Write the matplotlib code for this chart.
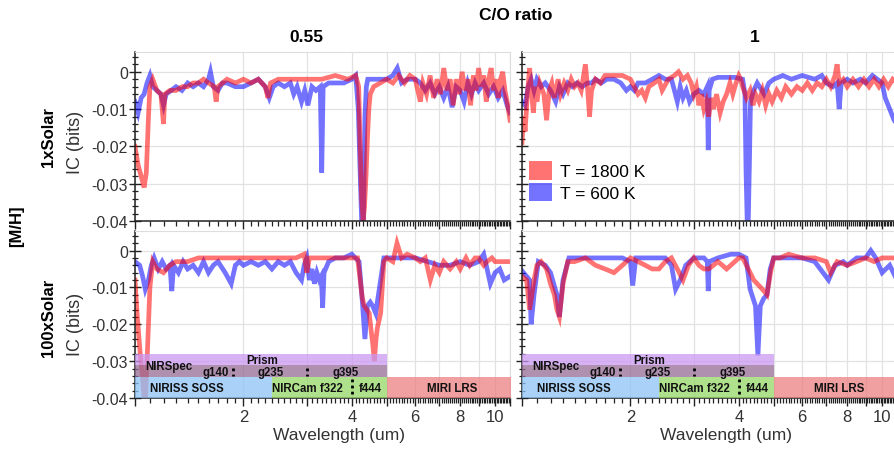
import numpy as np
import matplotlib.pyplot as plt
from matplotlib.patches import Patch
from matplotlib.ticker import FixedLocator, MultipleLocator, FuncFormatter, NullFormatter

plt.rcParams['font.family'] = ['Liberation Sans', 'DejaVu Sans']
plt.rcParams['axes.unicode_minus'] = False

# ---- data ----
# 1xSolar, C/O = 0.55
wl_tl_hot = [1.00, 1.02, 1.04, 1.06, 1.075, 1.09, 1.10, 1.12, 1.15, 1.18, 1.20, 1.21, 1.25, 1.30, 1.35,
             1.40, 1.45, 1.50, 1.55, 1.60, 1.66, 1.68, 1.70, 1.75, 1.80, 1.90, 2.00, 2.10, 2.20, 2.30,
             2.34, 2.38, 2.50, 2.70, 3.00, 3.30, 3.60, 3.90, 4.10, 4.18, 4.22, 4.26, 4.30, 4.34, 4.38,
             4.42, 4.46, 4.50, 4.60, 4.80, 5.00, 5.20, 5.40, 5.60, 5.80, 6.00, 6.10, 6.20, 6.30, 6.45,
             6.60, 6.75, 6.90, 7.05, 7.20, 7.35, 7.50, 7.65, 7.80, 7.95, 8.10, 8.25, 8.40, 8.55, 8.70,
             8.85, 9.00, 9.15, 9.30, 9.45, 9.60, 9.75, 9.90, 10.05, 10.2, 10.35, 10.5, 10.65, 10.8, 11.0]
ic_tl_hot = [-0.020, -0.025, -0.028, -0.031, -0.027, -0.012, -0.004, -0.002, -0.005, -0.006, -0.014, -0.006,
             -0.005, -0.005, -0.004, -0.004, -0.003, -0.003, -0.002, -0.003, -0.004, -0.008, -0.004, -0.003,
             -0.002, -0.003, -0.002, -0.003, -0.002, -0.004, -0.007, -0.003, -0.002, -0.002, -0.002, -0.002,
             -0.001, -0.002, -0.001, -0.004, -0.020, -0.034, -0.040, -0.036, -0.028, -0.018, -0.010, -0.006,
             -0.004, -0.003, -0.002, -0.003, -0.001, -0.003, -0.001, -0.002, -0.005, -0.008, -0.003, -0.006,
             -0.001, -0.007, -0.002, -0.006, 0.001, -0.005, -0.002, -0.009, -0.002, -0.006, 0.000, -0.005,
             -0.002, -0.009, -0.001, -0.005, 0.001, -0.004, -0.001, -0.008, -0.002, 0.001, -0.005, -0.002,
             -0.007, -0.002, 0.000, -0.005, -0.008, -0.013]
wl_tl_cool = [1.00, 1.02, 1.04, 1.06, 1.08, 1.10, 1.12, 1.15, 1.18, 1.20, 1.22, 1.26, 1.30, 1.35, 1.40,
              1.45, 1.50, 1.55, 1.60, 1.62, 1.65, 1.70, 1.75, 1.80, 1.90, 2.00, 2.10, 2.20, 2.30, 2.36,
              2.42, 2.50, 2.60, 2.70, 2.76, 2.82, 2.90, 2.96, 3.02, 3.10, 3.18, 3.27, 3.30, 3.33, 3.45,
              3.60, 3.80, 4.00, 4.10, 4.17, 4.21, 4.26, 4.31, 4.35, 4.39, 4.43, 4.60, 5.00, 5.20, 5.35,
              5.50, 5.70, 6.00, 6.20, 6.40, 6.60, 6.80, 7.00, 7.20, 7.40, 7.60, 7.80, 8.00, 8.20, 8.40,
              8.60, 8.80, 9.00, 9.30, 9.60, 9.90, 10.2, 10.5, 10.8, 11.0]
ic_tl_cool = [-0.008, -0.011, -0.007, -0.006, -0.003, -0.001, -0.004, -0.005, -0.006, -0.009, -0.006,
              -0.005, -0.004, -0.005, -0.003, -0.004, -0.003, -0.004, -0.002, 0.000, -0.004, -0.005,
              -0.003, -0.003, -0.004, -0.004, -0.003, -0.002, -0.004, -0.007, -0.004, -0.003, -0.004,
              -0.003, -0.006, -0.004, -0.008, -0.005, -0.009, -0.004, -0.005, -0.004, -0.027, -0.004,
              -0.003, -0.003, -0.003, -0.002, -0.001, -0.010, -0.024, -0.040, -0.040, -0.012, -0.004,
              -0.002, -0.002, -0.002, -0.001, 0.001, -0.003, -0.002, -0.002, -0.003, -0.005, -0.003,
              -0.006, -0.004, -0.007, -0.004, -0.0095, -0.004, -0.005, -0.008, -0.003, -0.006, -0.003,
              -0.005, -0.003, -0.006, -0.004, -0.007, -0.005, -0.009, -0.011]

# 1xSolar, C/O = 1
wl_tr_hot = [1.00, 1.01, 1.02, 1.035, 1.05, 1.06, 1.075, 1.09, 1.10, 1.12, 1.15, 1.17, 1.19, 1.21, 1.23,
             1.26, 1.28, 1.31, 1.34, 1.37, 1.40, 1.43, 1.46, 1.50, 1.52, 1.54, 1.56, 1.60, 1.65, 1.70,
             1.80, 1.90, 2.00, 2.05, 2.10, 2.15, 2.20, 2.25, 2.33, 2.40, 2.45, 2.55, 2.65, 2.72, 2.80,
             2.88, 2.95, 3.00, 3.05, 3.10, 3.15, 3.20, 3.25, 3.30, 3.35, 3.40, 3.47, 3.55, 3.62, 3.70,
             3.78, 3.85, 3.93, 4.00, 4.05, 4.10, 4.20, 4.30, 4.38, 4.45, 4.55, 4.65, 4.75, 4.85, 4.95,
             5.10, 5.25, 5.40, 5.60, 5.80, 6.00, 6.20, 6.40, 6.60, 6.80, 7.00, 7.20, 7.40, 7.50, 7.60,
             7.80, 8.00, 8.30, 8.60, 8.90, 9.20, 9.50, 9.80, 10.1, 10.4, 10.7, 11.0]
ic_tr_hot = [-0.019, -0.012, -0.016, -0.006, 0.001, -0.004, -0.011, -0.004, -0.008, -0.003, -0.006,
             -0.013, -0.005, -0.003, -0.007, -0.002, -0.006, -0.003, -0.005, -0.002, -0.004, -0.003,
             -0.005, 0.002, -0.004, -0.012, -0.005, -0.002, -0.003, -0.001, -0.001, -0.001, -0.002,
             -0.004, -0.006, -0.005, -0.007, -0.004, -0.003, -0.002, -0.005, -0.002, -0.001, 0.000,
             -0.002, -0.001, -0.003, -0.006, -0.004, -0.009, -0.006, -0.010, -0.008, -0.012, -0.007,
             -0.010, -0.006, -0.011, -0.008, -0.006, -0.003, -0.006, -0.003, -0.001, -0.002, -0.004,
             -0.007, -0.005, -0.009, -0.006, -0.008, -0.005, -0.009, -0.006, -0.008, -0.005, -0.007,
             -0.004, -0.006, -0.004, -0.005, -0.003, -0.005, -0.003, -0.004, -0.002, -0.004, -0.001,
             0.002, -0.003, -0.002, -0.004, -0.002, -0.004, -0.002, -0.004, -0.002, -0.004, -0.002,
             -0.004, -0.002, -0.003]
wl_tr_cool = [1.00, 1.02, 1.04, 1.06, 1.08, 1.10, 1.13, 1.16, 1.20, 1.24, 1.27, 1.30, 1.34, 1.38, 1.42,
              1.47, 1.52, 1.56, 1.60, 1.66, 1.72, 1.80, 1.88, 1.95, 2.00, 2.05, 2.10, 2.20, 2.30, 2.40,
              2.50, 2.60, 2.65, 2.70, 2.75, 2.80, 2.86, 2.92, 3.00, 3.10, 3.20, 3.27, 3.29, 3.31, 3.38,
              3.50, 3.70, 3.90, 4.10, 4.16, 4.19, 4.22, 4.25, 4.28, 4.31, 4.40, 4.50, 4.70, 4.85, 5.00,
              5.30, 5.60, 6.00, 6.50, 6.80, 7.00, 7.30, 7.50, 7.60, 7.70, 8.00, 8.30, 8.70, 9.00, 9.40,
              9.70, 10.0, 10.2, 10.5, 10.8, 11.0]
ic_tr_cool = [-0.008, -0.009, -0.004, -0.002, -0.005, -0.002, -0.004, -0.003, -0.005, -0.008, -0.004,
              -0.006, -0.003, -0.004, -0.003, -0.004, -0.003, -0.003, -0.002, -0.003, -0.002, -0.002,
              -0.003, -0.005, -0.004, -0.005, -0.003, -0.003, -0.002, -0.001, -0.002, -0.002, -0.005,
              -0.008, -0.004, -0.007, -0.005, -0.008, -0.006, -0.005, -0.006, -0.004, -0.021, -0.005,
              -0.002, -0.0015, -0.0015, -0.0015, -0.002, -0.006, -0.027, -0.040, -0.040, -0.025, -0.008,
              -0.005, -0.003, -0.006, -0.003, -0.002, -0.001, -0.002, -0.001, -0.002, -0.001, -0.003,
              -0.004, -0.003, -0.010, -0.003, -0.002, -0.003, -0.002, -0.003, -0.001, -0.002, -0.003,
              -0.007, -0.010, -0.013, -0.014]

# 100xSolar, C/O = 0.55
wl_bl_hot = [1.00, 1.015, 1.03, 1.05, 1.06, 1.07, 1.08, 1.09, 1.10, 1.12, 1.15, 1.20, 1.25, 1.30, 1.40,
             1.50, 1.60, 1.70, 1.80, 2.00, 2.20, 2.50, 2.80, 2.95, 3.00, 3.05, 3.20, 3.50, 3.80, 4.00,
             4.15, 4.22, 4.28, 4.33, 4.40, 4.47, 4.53, 4.57, 4.62, 4.67, 4.71, 4.81, 4.91, 5.00, 5.20,
             5.34, 5.50, 5.70, 6.00, 6.20, 6.40, 6.61, 6.80, 7.00, 7.20, 7.50, 7.80, 8.00, 8.30, 8.50,
             8.80, 9.00, 9.30, 9.50, 9.80, 10.0, 10.5, 11.0]
ic_bl_hot = [-0.008, -0.018, -0.026, -0.035, -0.040, -0.040, -0.030, -0.020, -0.010, -0.003, -0.005,
             -0.006, -0.004, -0.003, -0.003, -0.002, -0.002, -0.002, -0.002, -0.002, -0.002, -0.002,
             -0.002, -0.001, -0.006, -0.002, -0.002, -0.002, -0.002, -0.002, -0.002, -0.008, -0.013,
             -0.015, -0.016, -0.017, -0.022, -0.025, -0.030, -0.024, -0.021, -0.017, -0.003, -0.002,
             -0.003, 0.002, -0.002, -0.001, -0.002, -0.003, -0.002, -0.008, -0.004, -0.006, -0.003,
             -0.005, -0.003, -0.005, -0.002, -0.004, -0.002, -0.002, -0.004, -0.003, -0.002, -0.003,
             -0.003, -0.003]
wl_bl_cool = [1.00, 1.03, 1.05, 1.068, 1.09, 1.11, 1.13, 1.16, 1.19, 1.22, 1.25, 1.265, 1.28, 1.32, 1.36,
              1.40, 1.45, 1.50, 1.55, 1.60, 1.65, 1.70, 1.78, 1.85, 1.90, 1.95, 2.00, 2.10, 2.20, 2.30,
              2.40, 2.50, 2.60, 2.70, 2.80, 2.90, 2.95, 3.00, 3.05, 3.10, 3.15, 3.20, 3.25, 3.29, 3.32,
              3.35, 3.45, 3.60, 3.80, 4.00, 4.19, 4.28, 4.35, 4.42, 4.50, 4.57, 4.66, 4.81, 4.91, 5.00,
              5.50, 6.00, 6.50, 7.00, 7.50, 8.00, 8.50, 9.00, 9.30, 9.50, 9.70, 10.0, 10.3, 10.6, 11.0]
ic_bl_cool = [-0.003, -0.004, -0.007, -0.0105, -0.008, -0.004, -0.002, -0.005, -0.003, -0.005, -0.004,
              -0.011, -0.004, -0.006, -0.003, -0.005, -0.004, -0.006, -0.003, -0.006, -0.004, -0.003,
              -0.006, -0.009, -0.004, -0.003, -0.004, -0.003, -0.004, -0.003, -0.005, -0.003, -0.004,
              -0.003, -0.006, -0.008, -0.004, -0.002, -0.008, -0.005, -0.009, -0.006, -0.008, -0.007,
              -0.0155, -0.006, -0.003, -0.002, -0.002, -0.001, -0.003, -0.014, -0.024, -0.015, -0.014,
              -0.015, -0.017, -0.008, -0.002, -0.002, -0.002, -0.002, -0.003, -0.004, -0.004, -0.003,
              -0.004, -0.003, -0.001, -0.005, -0.009, -0.006, -0.005, -0.008, -0.007]

# 100xSolar, C/O = 1
wl_br_hot = [1.00, 1.03, 1.05, 1.065, 1.08, 1.10, 1.13, 1.17, 1.20, 1.23, 1.25, 1.27, 1.30, 1.34, 1.40,
             1.50, 1.60, 1.70, 1.80, 1.90, 2.00, 2.10, 2.20, 2.30, 2.40, 2.50, 2.60, 2.70, 2.80, 2.90,
             3.00, 3.10, 3.20, 3.30, 3.40, 3.50, 3.60, 3.70, 3.80, 3.90, 4.00, 4.10, 4.20, 4.30, 4.40,
             4.50, 4.60, 4.70, 4.79, 4.90, 5.00, 5.20, 5.50, 6.00, 6.50, 7.00, 7.20, 7.50, 8.00, 8.50,
             9.00, 9.50, 10.0, 10.5, 11.0]
ic_br_hot = [-0.007, -0.008, -0.016, -0.012, -0.008, -0.004, -0.003, -0.005, -0.009, -0.012, -0.016,
             -0.018, -0.009, -0.003, -0.003, -0.002, -0.004, -0.005, -0.006, -0.004, -0.002, -0.003,
             -0.004, -0.005, -0.005, -0.003, -0.002, -0.005, -0.008, -0.004, -0.002, -0.004, -0.005,
             -0.005, -0.004, -0.003, -0.004, -0.005, -0.004, -0.003, -0.002, -0.002, -0.004, -0.006,
             -0.008, -0.009, -0.010, -0.011, -0.012, -0.006, -0.002, -0.002, -0.001, -0.002, -0.002,
             -0.003, -0.006, -0.003, -0.004, -0.003, -0.002, -0.003, -0.002, -0.002, -0.002]
wl_br_cool = [1.00, 1.03, 1.05, 1.06, 1.08, 1.11, 1.16, 1.20, 1.25, 1.27, 1.30, 1.35, 1.50, 1.70, 1.90,
              2.00, 2.03, 2.07, 2.30, 2.50, 2.60, 2.67, 2.75, 2.85, 3.00, 3.20, 3.27, 3.29, 3.31, 3.50,
              3.80, 4.00, 4.19, 4.30, 4.45, 4.52, 4.59, 4.69, 4.79, 4.89, 5.00, 5.50, 6.00, 6.50, 7.10,
              7.40, 7.80, 8.00, 8.50, 9.00, 9.30, 9.60, 10.0, 10.5, 11.0]
ic_br_cool = [-0.0055, -0.007, -0.008, -0.020, -0.012, -0.003, -0.004, -0.006, -0.012, -0.018, -0.008,
              -0.002, -0.002, -0.002, -0.002, -0.003, -0.0095, -0.002, -0.002, -0.002, -0.004, -0.0105,
              -0.008, -0.004, -0.002, -0.002, -0.003, -0.011, -0.003, -0.002, -0.001, -0.001, -0.002,
              -0.0105, -0.015, -0.0285, -0.015, -0.013, -0.012, -0.005, -0.002, -0.002, -0.002, -0.003,
              -0.008, -0.004, -0.003, -0.004, -0.002, -0.002, 0.000, -0.002, -0.006, -0.004, -0.008]

# instrument coverage (um)
nirspec_range = (0.6, 5.0)
grating_splits = [1.87, 3.0]
niriss_range = (0.6, 2.4)
nircam_range = (2.4, 5.0)
nircam_split = 4.0
miri_range = (5.0, 12.0)

# ---- figure ----
W, H = 894, 452
fig = plt.figure(figsize=(W / 100, H / 100), dpi=100)


def add_ax(x0, y0, x1, y1):
    return fig.add_axes([x0 / W, 1 - y1 / H, (x1 - x0) / W, (y1 - y0) / H])


ax_tl = add_ax(135, 53, 510, 222)
ax_tr = add_ax(522, 53, 897, 222)
ax_bl = add_ax(135, 232, 510, 399)
ax_br = add_ax(522, 232, 897, 399)

HOT = '#ff0000'
COOL = '#0000ff'
ALPHA = 0.55


def style(ax, ylabels, xlabels):
    ax.set_xscale('log')
    ax.set_xlim(1.0, 11.0)
    ax.set_ylim(-0.04, 0.0053)
    ax.xaxis.set_major_locator(FixedLocator(range(1, 12)))
    ax.xaxis.set_major_formatter(FuncFormatter(
        lambda v, p: f'{v:g}' if (xlabels and round(v) in (2, 4, 6, 8, 10)) else ''))
    ax.xaxis.set_minor_locator(FixedLocator(np.arange(1.1, 11.0, 0.1)))
    ax.xaxis.set_minor_formatter(NullFormatter())
    ax.yaxis.set_major_locator(MultipleLocator(0.01))
    ax.yaxis.set_minor_locator(MultipleLocator(0.002))
    ax.yaxis.set_major_formatter(FuncFormatter(
        lambda v, p: ('0' if abs(v) < 1e-9 else f'{v:.2f}') if ylabels else ''))
    ax.tick_params(axis='x', which='major', direction='out', length=6, width=1, labelsize=12,
                   colors='#222222', labelcolor='#333333', pad=2)
    ax.tick_params(axis='x', which='minor', direction='out', length=3.5, width=0.9, colors='#222222')
    ax.tick_params(axis='y', which='major', direction='inout', length=8, width=1, labelsize=11.5,
                   colors='#222222', labelcolor='#333333', pad=1)
    ax.tick_params(axis='y', which='minor', direction='inout', length=5, width=0.9, colors='#222222')
    ax.grid(True, which='major', color='#e2e2e2', lw=0.9)
    ax.set_axisbelow(True)
    for s in ('top', 'right'):
        ax.spines[s].set_color('#dddddd')
    for s in ('left', 'bottom'):
        ax.spines[s].set_color('#222222')
        ax.spines[s].set_linewidth(1.1)


panels = [
    (ax_tl, wl_tl_hot, ic_tl_hot, wl_tl_cool, ic_tl_cool, True, False),
    (ax_tr, wl_tr_hot, ic_tr_hot, wl_tr_cool, ic_tr_cool, False, False),
    (ax_bl, wl_bl_hot, ic_bl_hot, wl_bl_cool, ic_bl_cool, True, True),
    (ax_br, wl_br_hot, ic_br_hot, wl_br_cool, ic_br_cool, False, True),
]
for ax, wh, ih, wc, icc, yl, xl in panels:
    style(ax, yl, xl)
    ax.plot(wc, icc, color=COOL, alpha=ALPHA, lw=3.4, solid_joinstyle='miter')
    ax.plot(wh, ih, color=HOT, alpha=ALPHA, lw=3.4, solid_joinstyle='miter')

# instrument bands on the 100xSolar row
for ax in (ax_bl, ax_br):
    kw = dict(lw=0, alpha=0.75, zorder=3)
    ax.fill_between(nirspec_range, -0.0311, -0.0281, color='#ca98f2', **kw)
    ax.fill_between(nirspec_range, -0.0342, -0.0311, color='#946c94', **kw)
    ax.fill_between(niriss_range, -0.0400, -0.0342, color='#8ec3f8', **kw)
    ax.fill_between(nircam_range, -0.0400, -0.0342, color='#94d766', **kw)
    ax.fill_between(miri_range, -0.0400, -0.0342, color='#eb8080', **kw)
    for g in grating_splits:
        ax.plot([g, g], [-0.0318, -0.0340], color='black', ls=(0, (1, 1.2)), lw=2, zorder=4)
    ax.plot([nircam_split, nircam_split], [-0.0348, -0.0392], color='black', ls=(0, (1, 1.2)),
            lw=2, zorder=4)
    tk = dict(fontsize=8.3, fontweight='bold', color='#111111', zorder=5, va='center')
    ax.text(1.065, -0.0312, 'NIRSpec', ha='left', **tk)
    ax.text(2.26, -0.0298, 'Prism', ha='center', **tk)
    ax.text(1.68, -0.0329, 'g140', ha='center', **tk)
    ax.text(2.38, -0.0329, 'g235', ha='center', **tk)
    ax.text(3.84, -0.0329, 'g395', ha='center', **tk)
    ax.text(1.39, -0.0372, 'NIRISS SOSS', ha='center', **tk)
    ax.text(3.02, -0.0372, 'NIRCam f322', ha='center', **tk)
    ax.text(4.49, -0.0372, 'f444', ha='center', **tk)
    ax.text(7.6, -0.0372, 'MIRI LRS', ha='center', **tk)

# legend
handles = [Patch(facecolor=HOT, alpha=ALPHA, edgecolor='none', label='T = 1800 K'),
           Patch(facecolor=COOL, alpha=ALPHA, edgecolor='none', label='T = 600 K')]
fig.legend(handles=handles, loc='upper left', bbox_to_anchor=(529 / W, 1 - 162 / H),
           frameon=False, fontsize=12.5, handlelength=1.3, handleheight=1.3,
           handletextpad=0.5, labelspacing=0.15, borderpad=0, borderaxespad=0)


def ftext(x, y, s, **kw):
    fig.text(x / W, 1 - y / H, s, ha='center', va='center', **kw)


ftext(516, 15, 'C/O ratio', fontsize=12.5, fontweight='bold')
ftext(306, 38, '0.55', fontsize=12.5, fontweight='bold')
ftext(755, 38, '1', fontsize=12.5, fontweight='bold')
ftext(17, 226, '[M/H]', fontsize=12, fontweight='bold', rotation=90)
ftext(48, 137, '1xSolar', fontsize=12, fontweight='bold', rotation=90)
ftext(48, 318, '100xSolar', fontsize=12, fontweight='bold', rotation=90)
ftext(76, 142, 'IC (bits)', fontsize=13, rotation=90, color='#333333')
ftext(76, 324, 'IC (bits)', fontsize=13, rotation=90, color='#333333')
ftext(339, 436, 'Wavelength (um)', fontsize=12.5, color='#333333')
ftext(726, 436, 'Wavelength (um)', fontsize=12.5, color='#333333')

fig.savefig('out.png', dpi=100)
